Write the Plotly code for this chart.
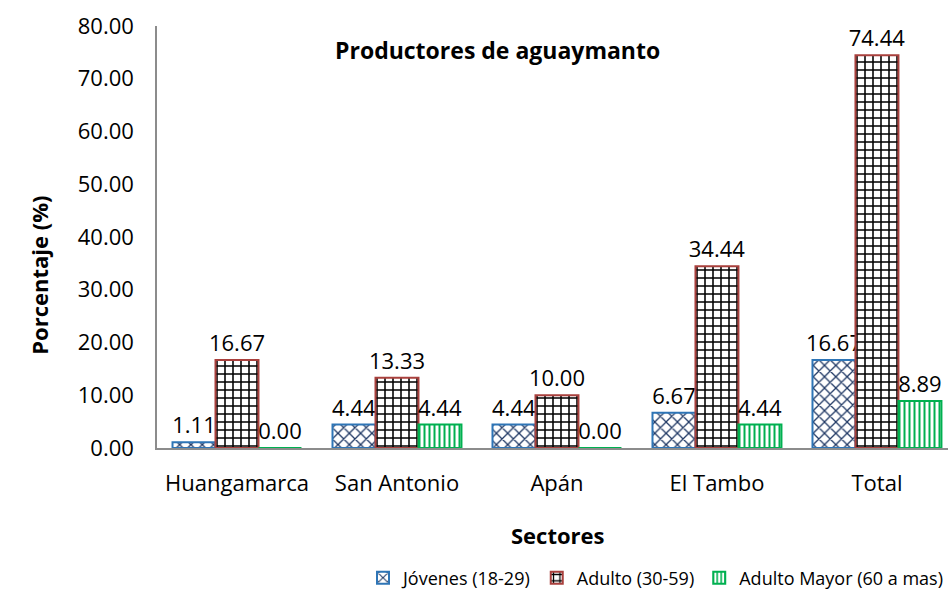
import plotly.graph_objects as go

categories = ["Huangamarca", "San Antonio", "Apán", "El Tambo", "Total"]
jovenes = [1.11, 4.44, 4.44, 6.67, 16.67]
adulto = [16.67, 13.33, 10.00, 34.44, 74.44]
adulto_mayor = [0.00, 4.44, 0.00, 4.44, 8.89]
series_names = ["Jóvenes (18-29)", "Adulto (30-59)", "Adulto Mayor (60 a mas)"]
y_ticks = [0, 10, 20, 30, 40, 50, 60, 70, 80]

FONT = "'Open Sans', sans-serif"
FS = 22

fig = go.Figure()
styles = [
    dict(line="#2E75B6", fg="#1F3864", shape="x", size=8, sol=0.3),
    dict(line="#A9403D", fg="#000000", shape="+", size=8, sol=0.35),
    dict(line="#00B050", fg="#00B050", shape="|", size=5, sol=0.4),
]
for name, vals, st in zip(series_names, [jovenes, adulto, adulto_mayor], styles):
    fig.add_trace(go.Bar(
        x=categories, y=vals, name=name,
        marker=dict(color="white", line=dict(color=st["line"], width=2),
                    pattern=dict(shape=st["shape"], fgcolor=st["fg"], bgcolor="white",
                                 size=st["size"], solidity=st["sol"], fillmode="replace")),
        text=[f"{v:.2f}" for v in vals], textposition="outside",
        textfont=dict(size=FS, color="#000000", family=FONT),
        constraintext="none", cliponaxis=False,
    ))

fig.update_layout(
    width=948, height=594,
    margin=dict(l=157, r=0, t=26, b=146, autoexpand=False),
    paper_bgcolor="white", plot_bgcolor="white",
    font=dict(family=FONT, color="#000000"),
    barmode="group", bargap=0.194, bargroupgap=0,
    showlegend=True,
    legend=dict(orientation="h", x=1, xanchor="right", y=-0.308, yanchor="middle",
                font=dict(size=18, family=FONT), traceorder="normal", itemwidth=30),
    annotations=[
        dict(text="<b>Productores de aguaymanto</b>", x=0.431, y=0.943, xref="paper", yref="paper",
             yanchor="middle", showarrow=False, font=dict(size=23, family=FONT)),
        dict(text="<b>Sectores</b>", x=0.507, y=-0.206, xref="paper", yref="paper",
             yanchor="middle", showarrow=False, font=dict(size=22, family=FONT)),
        dict(text="<b>Porcentaje (%)</b>", x=-0.171, y=0.41, xref="paper", yref="paper",
             textangle=-90, showarrow=False, font=dict(size=22, family=FONT)),
    ],
)
fig.update_xaxes(range=[-0.5, 4.444], showline=True, linecolor="#8C8C8C", linewidth=1.5,
                 showgrid=False, ticks="", tickfont=dict(size=FS, family=FONT),
                 ticklabelstandoff=15)
fig.update_yaxes(range=[0, 80], tickvals=y_ticks, ticktext=[f"{v:.2f}" for v in y_ticks],
                 showline=True, linecolor="#8C8C8C", linewidth=1.5, showgrid=False,
                 ticks="", tickfont=dict(size=FS, family=FONT), ticklabelstandoff=17,
                 zeroline=False)

fig.write_html("out.html", config={"displayModeBar": False},
               post_script="document.body.style.margin='0';document.body.style.overflow='hidden';")
